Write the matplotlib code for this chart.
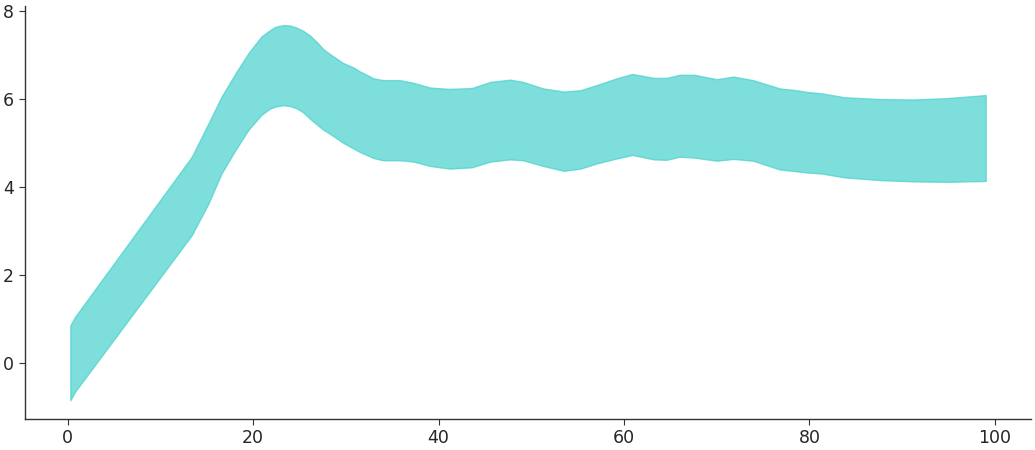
import matplotlib
matplotlib.use("Agg")
import matplotlib.pyplot as plt

# Data
x_vals = [0.3, 0.8, 13.4, 15.2, 16.6, 18.1, 19.5, 20.9, 21.8, 22.4, 23.3, 24.0,
          24.7, 25.4, 26.1, 26.9, 27.6, 28.3, 29.0, 29.7, 30.8, 31.5, 33.0, 34.0,
          35.8, 37.3, 39.1, 41.2, 43.6, 45.6, 47.7, 49.1, 51.3, 53.5, 55.3, 57.1,
          59.2, 60.9, 63.2, 64.6, 66.0, 67.6, 70.0, 71.8, 73.9, 76.8, 78.6, 79.8,
          81.3, 83.8, 87.6, 91.2, 94.8, 99.0]

upper = [0.86, 1.05, 4.69, 5.45, 6.05, 6.58, 7.04, 7.42, 7.56, 7.64, 7.68, 7.67,
         7.62, 7.55, 7.45, 7.29, 7.13, 7.02, 6.92, 6.82, 6.72, 6.63, 6.47, 6.43,
         6.43, 6.37, 6.26, 6.23, 6.25, 6.39, 6.44, 6.39, 6.24, 6.17, 6.20, 6.32,
         6.47, 6.57, 6.48, 6.48, 6.55, 6.55, 6.45, 6.51, 6.43, 6.24, 6.20, 6.16,
         6.13, 6.04, 6.00, 5.99, 6.02, 6.09]

lower = [-0.84, -0.65, 2.91, 3.63, 4.31, 4.84, 5.30, 5.64, 5.78, 5.83, 5.86, 5.84,
         5.79, 5.70, 5.56, 5.42, 5.30, 5.21, 5.11, 5.01, 4.88, 4.80, 4.66, 4.61,
         4.61, 4.58, 4.48, 4.42, 4.45, 4.58, 4.63, 4.61, 4.48, 4.37, 4.42, 4.54,
         4.65, 4.73, 4.63, 4.62, 4.69, 4.67, 4.60, 4.64, 4.60, 4.40, 4.36, 4.33,
         4.31, 4.22, 4.16, 4.13, 4.12, 4.14]

x_ticks = [0, 20, 40, 60, 80, 100]
y_ticks = [0, 2, 4, 6, 8]

fig = plt.figure(figsize=(10.35, 4.5), dpi=100)
ax = fig.add_axes([0.0237, 0.0689, 0.9729, 0.9171])

ax.fill_between(x_vals, lower, upper, facecolor="#48D1CC", alpha=0.7,
                edgecolor="#48D1CC", linewidth=1.0)

ax.set_xticks(x_ticks)
ax.set_yticks(y_ticks)
ax.tick_params(labelsize=12.5, colors="#333333", labelcolor="#262626", length=4)
for side in ["top", "right"]:
    ax.spines[side].set_visible(False)
for side in ["left", "bottom"]:
    ax.spines[side].set_color("#333333")
    ax.spines[side].set_linewidth(1.0)

fig.savefig("out.png", dpi=100)
